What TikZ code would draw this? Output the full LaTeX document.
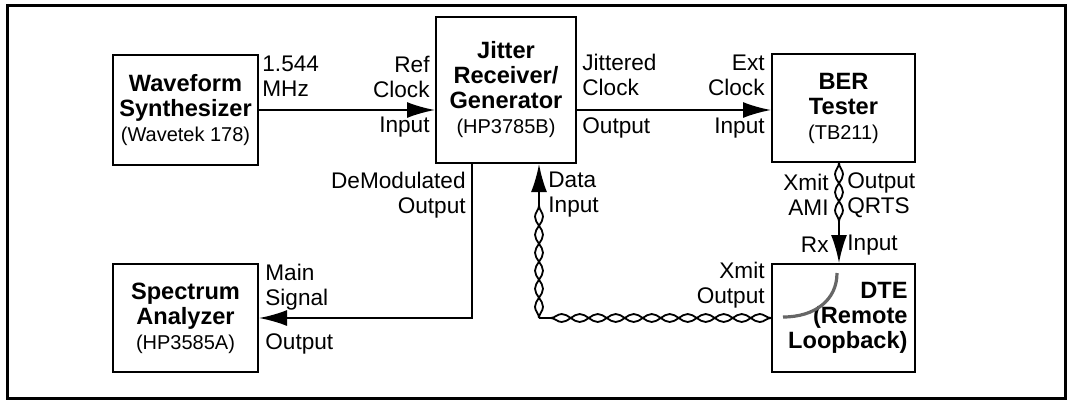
\documentclass[tikz,border=0pt]{standalone}
\usepackage{fontspec}
\setmainfont{Liberation Sans}
\usetikzlibrary{arrows.meta,decorations.pathmorphing}

\tikzset{
  unit/.style={draw, line width=1pt, align=center, inner sep=0pt,
    font=\fontsize{11.8}{12.5}\selectfont\bfseries},
  lbl/.style={inner sep=0pt, font=\fontsize{11.3}{12.5}\selectfont},
  sig/.style={line width=1pt, -{Latex[length=14pt,width=8pt]}},
  pair/.style={line width=0.9pt, decorate,
    decoration={snake, amplitude=2pt, segment length=18pt}},
  pairb/.style={pair, decoration={mirror}},
}
\newcommand{\model}[1]{{\mdseries\fontsize{10}{11.5}\selectfont #1}}

\begin{document}
\begin{tikzpicture}[x=0.5pt, y=-0.5pt]
    \useasboundingbox (0,0) rectangle (1073,404);
    % 1. outer frame
    \draw[line width=1.5pt] (7,5) rectangle (1065,398);

    % 2. the five units
    \node[unit, minimum width=72.5pt, minimum height=55pt] (synth) at (185.5,110)
        {Waveform\\Synthesizer\\\model{(Wavetek 178)}};
    \node[unit, minimum width=70pt, minimum height=73pt] (jitter) at (506,90)
        {Jitter\\Receiver/\\Generator\\\model{(HP3785B)}};
    \node[unit, minimum width=71.5pt, minimum height=54pt] (ber) at (843.5,108)
        {BER\\Tester\\\model{(TB211)}};
    \node[unit, minimum width=71.5pt, minimum height=54pt, align=right,
        text width=64pt] (dte) at (843.5,318) {DTE\\(Remote\\Loopback)};
    \node[unit, minimum width=72.5pt, minimum height=54pt] (analyzer) at (185.5,318)
        {Spectrum\\Analyzer\\\model{(HP3585A)}};

    % 3. clock lines
    \draw[sig] (synth.east) -- (jitter.west |- synth.east);
    \draw[sig] (jitter.east |- synth.east) -- (ber.west |- synth.east);

    % 4. demodulated output to the analyzer
    \coordinate (demod) at (472,318);
    \draw[sig] (jitter.south -| demod) |- (analyzer.east);

    % 5. twisted pairs
    \coordinate (rxend) at (839,236);
    \draw[pair] (ber.south -| rxend) -- (rxend);
    \draw[pairb] (ber.south -| rxend) -- (rxend);
    \draw[sig] (rxend) -- (dte.north -| rxend);

    \coordinate (dataend) at (539,188);
    \coordinate (loop) at (dataend |- dte.west);
    \draw[pair] (dte.west) -- (loop);
    \draw[pairb] (dte.west) -- (loop);
    \draw[pair] (loop) -- (dataend);
    \draw[pairb] (loop) -- (dataend);
    \draw[sig] (dataend) -- (jitter.south -| dataend);

    % loopback inside the DTE
    \draw[black!60, line width=1.6pt] (837,273) .. controls (837,300) and (815,317) .. (783,317);

    % 6. port labels
    \node[lbl, anchor=west, align=left] (mhz) at (262,76.5) {1.544\\MHz};
    \node[lbl, anchor=east, align=right] (refclk) at (430,76.5) {Ref\\Clock};
    \node[lbl, anchor=east] (refin) at (430,127) {Input};
    \node[lbl, anchor=west, align=left] (jitclk) at (582,75) {Jittered\\Clock};
    \node[lbl, anchor=west] (jitout) at (582,128) {Output};
    \node[lbl, anchor=east, align=right] (extclk) at (765,75) {Ext\\Clock};
    \node[lbl, anchor=east] (extin) at (765,128) {Input};
    \node[lbl, anchor=east, align=right] (demodlbl) at (466,195) {DeModulated\\Output};
    \node[lbl, anchor=west, align=left] (datalbl) at (548,195) {Data\\Input};
    \node[lbl, anchor=east, align=right] (amilbl) at (829,195) {Xmit\\AMI};
    \node[lbl, anchor=west, align=left] (qrtslbl) at (847,195) {Output\\QRTS};
    \node[lbl, anchor=east] (rxlbl) at (829,245) {Rx};
    \node[lbl, anchor=west] (rxin) at (847,245) {Input};
    \node[lbl, anchor=east, align=right] (xmitlbl) at (765,285) {Xmit\\Output};
    \node[lbl, anchor=west, align=left] (mainlbl) at (265,287) {Main\\Signal};
    \node[lbl, anchor=west] (mainout) at (265,344) {Output};
\end{tikzpicture}
\end{document}
